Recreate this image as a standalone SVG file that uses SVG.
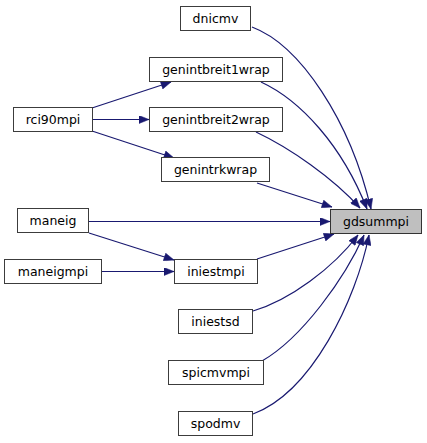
<svg xmlns="http://www.w3.org/2000/svg" width="427" height="443" viewBox="0 0 427 443">
<defs>
<style>
.n rect{fill:#ffffff;stroke:#3c3c3c;stroke-width:1}
.n.root rect{fill:#bfbfbf;stroke:#333333}
.n text{font-family:"DejaVu Sans","Liberation Sans",sans-serif;font-size:12.5px;text-anchor:middle;fill:#000000}
.e path{fill:none;stroke:#191970;stroke-width:1.2}
</style>
<marker id="ah" viewBox="0 0 10 8" refX="10" refY="4" markerWidth="11" markerHeight="8" markerUnits="userSpaceOnUse" orient="auto">
<path d="M0,0 L10,4 L0,8 Z" fill="#191970" stroke="#191970" stroke-width="0.5"/>
</marker>
</defs>
<rect width="427" height="443" fill="#ffffff"/>
<g id="edges" class="e">
<path marker-end="url(#ah)" d="M252,27 C300,45 350,120 371,209"/>
<path marker-end="url(#ah)" d="M261,82 C300,100 342,145 367,209"/>
<path marker-end="url(#ah)" d="M256,132 C290,148 333,178 360,208"/>
<path marker-end="url(#ah)" d="M257,183 L332,207"/>
<path marker-end="url(#ah)" d="M89,221.5 L330,221.5"/>
<path marker-end="url(#ah)" d="M257,259 L334,234"/>
<path marker-end="url(#ah)" d="M253,311 C290,300 333,268 358,235"/>
<path marker-end="url(#ah)" d="M262,361 C302,338 345,278 364,235"/>
<path marker-end="url(#ah)" d="M253,414 C312,392 356,300 369,235"/>
<path marker-end="url(#ah)" d="M92,108 L171,82"/>
<path marker-end="url(#ah)" d="M92,119.5 L149,119.5"/>
<path marker-end="url(#ah)" d="M92,131 L174,158"/>
<path marker-end="url(#ah)" d="M89,233 L174,260"/>
<path marker-end="url(#ah)" d="M101,271.5 L174,271.5"/>
</g>
<g id="gdsummpi" class="n root"><rect x="330.5" y="209.5" width="91" height="24"/><text x="376" y="226">gdsummpi</text></g>
<g id="dnicmv" class="n"><rect x="180.5" y="6.5" width="70" height="24"/><text x="215.5" y="23">dnicmv</text></g>
<g id="genintbreit1wrap" class="n"><rect x="149.5" y="57.5" width="133" height="24"/><text x="216" y="74">genintbreit1wrap</text></g>
<g id="genintbreit2wrap" class="n"><rect x="149.5" y="107.5" width="133" height="24"/><text x="216" y="124">genintbreit2wrap</text></g>
<g id="genintrkwrap" class="n"><rect x="161.5" y="157.5" width="108" height="24"/><text x="215.5" y="174">genintrkwrap</text></g>
<g id="rci90mpi" class="n"><rect x="13.5" y="107.5" width="79" height="24"/><text x="53" y="124">rci90mpi</text></g>
<g id="maneig" class="n"><rect x="17.5" y="208.5" width="71" height="24"/><text x="53" y="225">maneig</text></g>
<g id="maneigmpi" class="n"><rect x="4.5" y="259.5" width="97" height="24"/><text x="53" y="276">maneigmpi</text></g>
<g id="iniestmpi" class="n"><rect x="174.5" y="259.5" width="83" height="24"/><text x="216" y="276">iniestmpi</text></g>
<g id="iniestsd" class="n"><rect x="178.5" y="309.5" width="74" height="24"/><text x="215.5" y="326">iniestsd</text></g>
<g id="spicmvmpi" class="n"><rect x="168.5" y="360.5" width="95" height="24"/><text x="216" y="377">spicmvmpi</text></g>
<g id="spodmv" class="n"><rect x="178.5" y="411.5" width="74" height="24"/><text x="215.5" y="428">spodmv</text></g>
</svg>
